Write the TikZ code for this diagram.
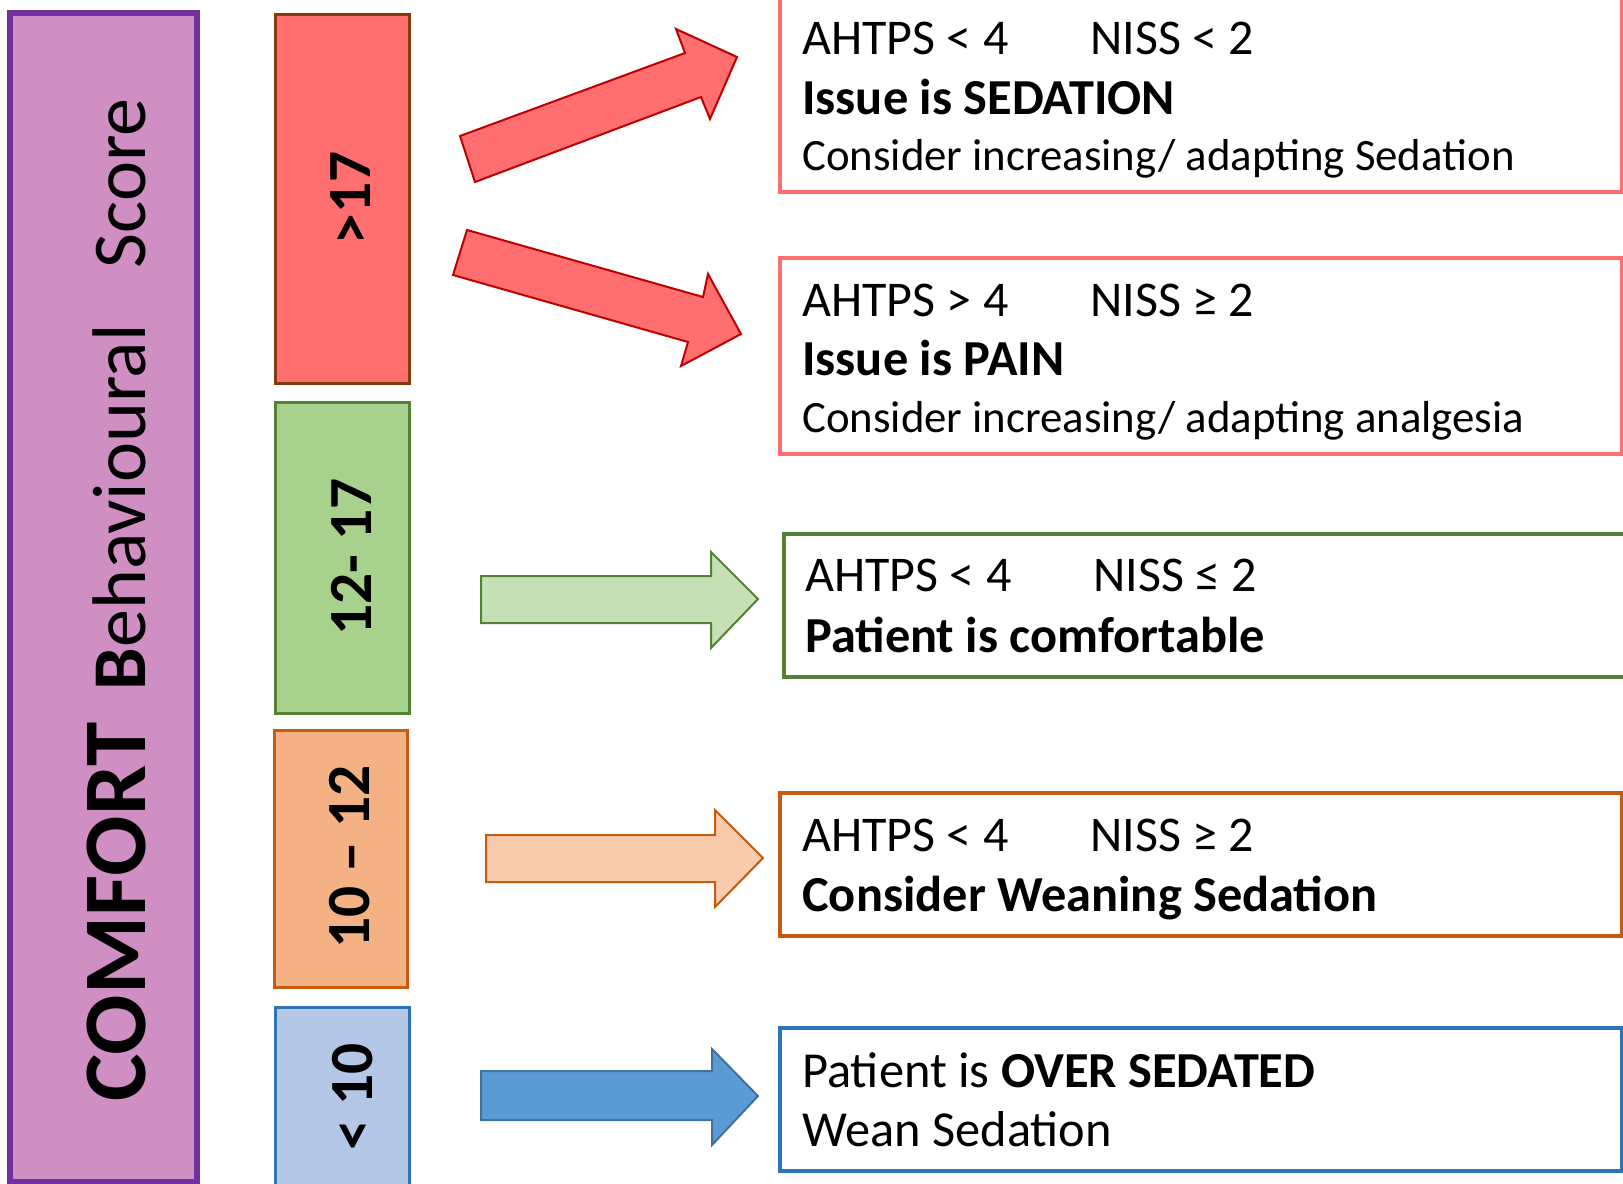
\documentclass[tikz,border=0pt]{standalone}
\usepackage{fontspec}
\setmainfont{Carlito}
\definecolor{cbsFill}{HTML}{CF8FC2}
\definecolor{cbsDraw}{HTML}{7030A0}
\definecolor{highFill}{HTML}{FF6F6F}
\definecolor{highDraw}{HTML}{843C0C}
\definecolor{highArrow}{HTML}{C00000}
\definecolor{midFill}{HTML}{A9D18E}
\definecolor{midLight}{HTML}{C5E0B4}
\definecolor{midDraw}{HTML}{548235}
\definecolor{lowFill}{HTML}{F4B183}
\definecolor{lowLight}{HTML}{F8CBAD}
\definecolor{lowDraw}{HTML}{C55A11}
\definecolor{overFill}{HTML}{B4C7E7}
\definecolor{overArrow}{HTML}{5B9BD5}
\definecolor{overArrowDraw}{HTML}{41719C}
\definecolor{overDraw}{HTML}{2E75B6}

\begin{document}
\begin{tikzpicture}[x=0.75pt,y=0.75pt,yscale=-1,xscale=1,
  rangebox/.style={line width=2.25pt},
  advicebox/.style={line width=3.4pt},
  bigarrow/.style={line width=1.5pt, line join=miter},
  rangetext/.style={rotate=90, inner sep=0pt, font=\fontsize{46}{54}\selectfont\bfseries},
  advicetext/.style={anchor=base west, inner sep=0pt, font=\fontsize{37.5}{43}\selectfont},
  advicelong/.style={advicetext, font=\fontsize{33.6}{43}\selectfont},
  advicebold/.style={advicetext, font=\fontsize{37.8}{43}\selectfont\bfseries}]
\useasboundingbox (0,0) rectangle (1623,1183);
\clip (0,0) rectangle (1623,1183);

%Shape: Rectangle [COMFORT scale]
\draw [draw=cbsDraw, fill=cbsFill, line width=4.5pt] (10,13) -- (197,13) -- (197,1182) -- (10,1182) -- cycle ;

%Shape: Rectangle [>17]
\draw [rangebox, draw=highDraw, fill=highFill] (275,14) -- (409,14) -- (409,383) -- (275,383) -- cycle ;
%Shape: Rectangle [12-17]
\draw [rangebox, draw=midDraw, fill=midFill] (275,402) -- (409,402) -- (409,713) -- (275,713) -- cycle ;
%Shape: Rectangle [10-12]
\draw [rangebox, draw=lowDraw, fill=lowFill] (274,730) -- (407,730) -- (407,987) -- (274,987) -- cycle ;
%Shape: Rectangle [<10]
\draw [rangebox, draw=overDraw, fill=overFill] (275,1007) -- (409,1007) -- (409,1190) -- (275,1190) -- cycle ;

%Shape: Right Arrow [to sedation]
\draw [bigarrow, draw=highArrow, fill=highFill] (460,136) -- (685,53) -- (676,29) -- (737,57) -- (710,119) -- (701,97) -- (475,182) -- cycle ;
%Shape: Right Arrow [to pain]
\draw [bigarrow, draw=highArrow, fill=highFill] (467,230) -- (703,297) -- (708,274) -- (741,334) -- (681,366) -- (688,342) -- (453,275) -- cycle ;
%Shape: Right Arrow [to comfortable]
\draw [bigarrow, draw=midDraw, fill=midLight] (481,576) -- (711,576) -- (711,552) -- (758,599) -- (711,648) -- (711,623) -- (481,623) -- cycle ;
%Shape: Right Arrow [to weaning]
\draw [bigarrow, draw=lowDraw, fill=lowLight] (486,835) -- (715,835) -- (715,810) -- (763,858) -- (715,907) -- (715,882) -- (486,882) -- cycle ;
%Shape: Right Arrow [to over sedated]
\draw [bigarrow, draw=overArrowDraw, fill=overArrow] (481,1071) -- (712,1071) -- (712,1049) -- (758,1096) -- (712,1145) -- (712,1120) -- (481,1120) -- cycle ;

%Shape: Rectangle [sedation]
\draw [advicebox, draw=highFill] (780,-5) -- (1622,-5) -- (1622,192) -- (780,192) -- cycle ;
%Shape: Rectangle [pain]
\draw [advicebox, draw=highFill] (780,258) -- (1622,258) -- (1622,454) -- (780,454) -- cycle ;
%Shape: Rectangle [comfortable]
\draw [advicebox, draw=midDraw] (784,534) -- (1630,534) -- (1630,677) -- (784,677) -- cycle ;
%Shape: Rectangle [weaning]
\draw [advicebox, draw=lowDraw] (780,793) -- (1622,793) -- (1622,936) -- (780,936) -- cycle ;
%Shape: Rectangle [over sedated]
\draw [advicebox, draw=overDraw] (780,1028) -- (1622,1028) -- (1622,1171) -- (780,1171) -- cycle ;

% Text Node
\node [rotate=90, anchor=base, inner sep=0pt] (cbs) at (145,600) {{\fontsize{67}{67}\selectfont\bfseries COMFORT}\hspace{24pt}{\fontsize{57}{57}\selectfont\textbf{B}ehavioural\hspace{42pt}Score}};

% Text Node
\node [rangetext] (high) at (351,198) {>17};
% Text Node
\node [rangetext] (mid) at (351,557) {12- 17};
% Text Node
\node [rangetext] (low) at (350,857) {10 – 12};
% Text Node
\node [rangetext] (over) at (353,1097) {< 10};

% Text Node
\node [advicetext] (sedA) at (802,54) {AHTPS < 4};
\node [advicetext] (sedN) at (1090,54) {NISS < 2};
\node [advicebold] (sedIssue) at (802,114) {Issue is SEDATION};
\node [advicelong] (sedDo) at (802,170) {Consider increasing/ adapting Sedation};
% Text Node
\node [advicetext] (painA) at (802,316) {AHTPS > 4};
\node [advicetext] (painN) at (1090,316) {NISS ≥ 2};
\node [advicebold] (painIssue) at (802,375) {Issue is PAIN};
\node [advicelong] (painDo) at (802,432) {Consider increasing/ adapting analgesia};
% Text Node
\node [advicetext] (okA) at (805,591) {AHTPS < 4};
\node [advicetext] (okN) at (1093,591) {NISS ≤ 2};
\node [advicebold] (okIssue) at (805,652) {Patient is comfortable};
% Text Node
\node [advicetext] (weanA) at (802,851) {AHTPS < 4};
\node [advicetext] (weanN) at (1090,851) {NISS ≥ 2};
\node [advicebold] (weanIssue) at (802,911) {Consider Weaning Sedation};
% Text Node
\node [advicetext, font=\fontsize{37.8}{43}\selectfont] (overIssue) at (802,1087) {Patient is \textbf{OVER SEDATED}};
\node [advicetext, font=\fontsize{37.8}{43}\selectfont] (overDo) at (802,1146) {Wean Sedation};

\end{tikzpicture}
\end{document}
